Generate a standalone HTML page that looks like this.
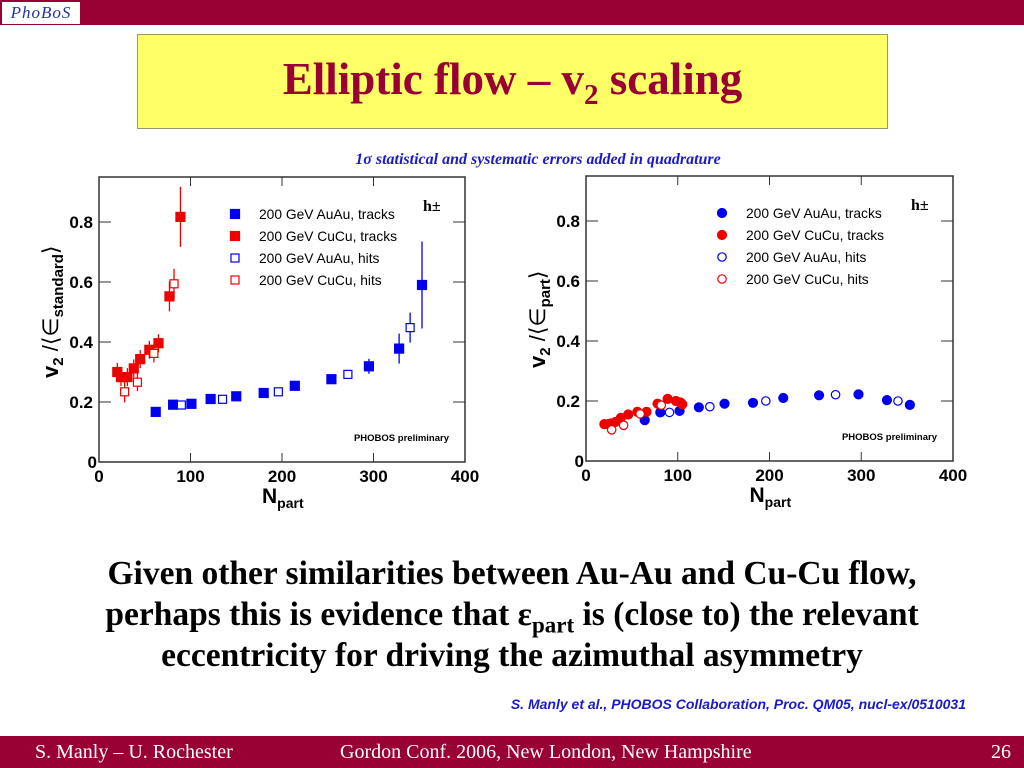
<!DOCTYPE html>
<html><head><meta charset="utf-8"><style>
body{margin:0;width:1024px;height:768px;position:relative;background:#fff;overflow:hidden;font-family:"Liberation Serif",serif}
.abs{position:absolute}
sub{line-height:0}
</style></head><body>
<div class="abs" style="left:0;top:0;width:1024px;height:25px;background:#990033"></div>
<div class="abs" style="left:2px;top:2px;width:78px;height:22px;background:#fff;color:#2233aa;font:italic 17px 'Liberation Serif',serif;line-height:22px;text-align:center;letter-spacing:1px">PhoBoS</div>
<div class="abs" style="left:137px;top:34px;width:749px;height:93px;background:#ffff66;border:1px solid #996;"></div>
<div class="abs" style="left:137px;top:53px;width:751px;text-align:center;color:#990033;font:bold 45px 'Liberation Serif',serif">Elliptic flow – v<sub style="font-size:29px">2</sub> scaling</div>
<div class="abs" style="left:238px;top:151px;width:600px;text-align:center;color:#1a1acc;font:bold italic 16px 'Liberation Serif',serif">1σ statistical and systematic errors added in quadrature</div>
<svg class="abs" style="left:0;top:0" width="1024" height="768" id="svg"></svg>
<div class="abs" style="left:0px;top:553px;width:1024px;text-align:center;font:bold 33.5px 'Liberation Serif',serif;line-height:41px">Given other similarities between Au-Au and Cu-Cu flow,<br>perhaps this is evidence that ε<sub style="font-size:23px">part</sub> is (close to) the relevant<br>eccentricity for driving the azimuthal asymmetry</div>
<div class="abs" style="right:58px;top:696px;color:#1a1acc;font:bold italic 14px 'Liberation Sans',sans-serif">S. Manly et al., PHOBOS Collaboration, Proc. QM05, nucl-ex/0510031</div>
<div class="abs" style="left:0;top:736px;width:1024px;height:32px;background:#990033;color:#fff;font:20px 'Liberation Serif',serif">
<span class="abs" style="left:35px;top:5px">S. Manly – U. Rochester</span>
<span class="abs" style="left:340px;top:5px">Gordon Conf. 2006, New London, New Hampshire</span>
<span class="abs" style="left:991px;top:5px">26</span>
</div>
<script>
// Left chart data
const L_cuT_x=[20,24,31,38,45,55,65,77,89];
const L_cuT_y=[0.30,0.283,0.283,0.312,0.343,0.374,0.396,0.552,0.817];
const L_cuT_e=[0.03,0.03,0.03,0.03,0.03,0.03,0.03,0.05,0.1];
const L_cuH_x=[28,42,60,82];
const L_cuH_y=[0.234,0.266,0.362,0.594];
const L_cuH_e=[0.035,0.03,0.03,0.05];
const L_auT_x=[62,81,101,122,150,180,214,254,295,328,353];
const L_auT_y=[0.167,0.191,0.194,0.21,0.219,0.23,0.254,0.276,0.319,0.378,0.59];
const L_auT_e=[0.01,0.01,0.01,0.01,0.01,0.01,0.01,0.01,0.025,0.05,0.145];
const L_auH_x=[90,135,196,272,340];
const L_auH_y=[0.19,0.209,0.234,0.292,0.448];
const L_auH_e=[0.01,0.01,0.01,0.015,0.05];
// Right chart data
const R_cuT_x=[20,24,27,32,38,46,56,66,78,89,98,103,105];
const R_cuT_y=[0.123,0.123,0.125,0.13,0.144,0.155,0.164,0.164,0.191,0.207,0.2,0.195,0.189];
const R_cuH_x=[28,41,59,82];
const R_cuH_y=[0.104,0.119,0.157,0.186];
const R_auT_x=[64,81,102,123,151,182,215,254,297,328,353];
const R_auT_y=[0.136,0.162,0.167,0.179,0.191,0.194,0.21,0.219,0.222,0.203,0.187];
const R_auH_x=[91,135,196,272,340];
const R_auH_y=[0.162,0.181,0.2,0.221,0.2];
const xTicks=[0,100,200,300,400];
const yTicks=[0.2,0.4,0.6,0.8];
const legendLabels=["200 GeV AuAu, tracks","200 GeV CuCu, tracks","200 GeV AuAu, hits","200 GeV CuCu, hits"];

const svg=document.getElementById('svg');
const NS='http://www.w3.org/2000/svg';
function mk(tag,attrs,parent){const e=document.createElementNS(NS,tag);for(const k in attrs)e.setAttribute(k,attrs[k]);(parent||svg).appendChild(e);return e;}
const BLUE='#0000ee',RED='#ee0000';

function chart(x0,x1,y0,ytop,name,ytitleAt,sub,series,shape){
  const g=mk('g',{});
  
  
  const sx=v=>x0+(x1-x0)*v/400, sy=v=>y0-(y0-ytop)*v/0.95;
  const fr=mk('rect',{x:x0,y:ytop,width:x1-x0,height:y0-ytop,fill:'none',stroke:'#333','stroke-width':1.5},g);
  
  
  xTicks.forEach(t=>{
    mk('line',{x1:sx(t),x2:sx(t),y1:y0,y2:y0-9,stroke:'#333'},g);
    mk('line',{x1:sx(t),x2:sx(t),y1:ytop,y2:ytop+9,stroke:'#333'},g);
    const tx=mk('text',{x:sx(t),y:y0+20,'text-anchor':'middle','font-family':'Liberation Sans','font-weight':'bold','font-size':17},g);
    tx.textContent=t;
    
    
  });
  yTicks.forEach(t=>{
    mk('line',{x1:x0,x2:x0+12,y1:sy(t),y2:sy(t),stroke:'#333'},g);
    mk('line',{x1:x1,x2:x1-12,y1:sy(t),y2:sy(t),stroke:'#333'},g);
    const tx=mk('text',{x:x0-6,y:sy(t)+6,'text-anchor':'end','font-family':'Liberation Sans','font-weight':'bold','font-size':17},g);
    tx.textContent=t;
    
    
  });
  const z=mk('text',{x:x0-2,y:y0+6,'text-anchor':'end','font-family':'Liberation Sans','font-weight':'bold','font-size':17},g);z.textContent='0';
  const xl=mk('text',{x:sx(200)-20,y:y0+41,'font-family':'Liberation Sans','font-weight':'bold','font-size':21},g);
  xl.innerHTML='N<tspan font-size="14" dy="5">part</tspan>';
  
  
  const yl=mk('text',{transform:`translate(${x0-41},${sy(ytitleAt)}) rotate(-90)`,'font-family':'Liberation Sans','font-weight':'bold','font-size':22},g);
  yl.innerHTML='v<tspan font-size="15" dy="5">2</tspan><tspan dy="-5" font-weight="normal"> /⟨∈</tspan><tspan font-size="15" dy="5">'+sub+'</tspan><tspan dy="-5" font-weight="normal">⟩</tspan>';
  
  
  const h=mk('text',{x:x1-42,y:ytop+34,'font-family':'Liberation Serif','font-weight':'bold','font-size':16},g);
  h.textContent='h±';
  const pp=mk('text',{x:x1-16,y:y0-21,'text-anchor':'end','font-family':'Liberation Sans','font-weight':'bold','font-size':9.5},g);
  pp.textContent='PHOBOS preliminary';
  
  
  function marker(cx,cy,col,filled,p){
    if(shape==='sq'){const s=filled?9:8;return mk('rect',{x:cx-s/2,y:cy-s/2,width:s,height:s,fill:filled?col:'#fff',stroke:col,'stroke-width':1.2},p);}
    return mk('circle',{cx,cy,r:filled?4.5:4.2,fill:filled?col:'#fff',stroke:col,'stroke-width':1.2},p);
  }
  series.forEach((s,i)=>{
    const sg=mk('g',{},g);
    
    
    s.x.forEach((v,j)=>{
      if(s.e){mk('line',{x1:sx(v),x2:sx(v),y1:sy(s.y[j]-s.e[j]),y2:sy(s.y[j]+s.e[j]),stroke:s.col,'stroke-width':1.3},sg);}
      const m=marker(sx(v),sy(s.y[j]),s.col,s.filled,sg);
      
      
    });
    const ly=ytop+42+i*22;
    const lg=mk('g',{},g);
    
    
    marker(x0+136,ly-5,s.col,s.filled,lg);
    const lt=mk('text',{x:x0+160,y:ly,'font-family':'Liberation Sans','font-size':13.8},lg);
    lt.textContent=legendLabels[i];
  });
}
chart(99,465,462,177,'left-chart',0.28,'standard',[
 {name:'auau-tracks',x:L_auT_x,y:L_auT_y,e:L_auT_e,col:BLUE,filled:true},
 {name:'cucu-tracks',x:L_cuT_x,y:L_cuT_y,e:L_cuT_e,col:RED,filled:true},
 {name:'auau-hits',x:L_auH_x,y:L_auH_y,e:L_auH_e,col:BLUE,filled:false},
 {name:'cucu-hits',x:L_cuH_x,y:L_cuH_y,e:L_cuH_e,col:RED,filled:false}],'sq');
chart(586,953,461,176,'right-chart',0.31,'part',[
 {name:'auau-tracks',x:R_auT_x,y:R_auT_y,col:BLUE,filled:true},
 {name:'cucu-tracks',x:R_cuT_x,y:R_cuT_y,col:RED,filled:true},
 {name:'auau-hits',x:R_auH_x,y:R_auH_y,col:BLUE,filled:false},
 {name:'cucu-hits',x:R_cuH_x,y:R_cuH_y,col:RED,filled:false}],'ci');
</script>
</body></html>
